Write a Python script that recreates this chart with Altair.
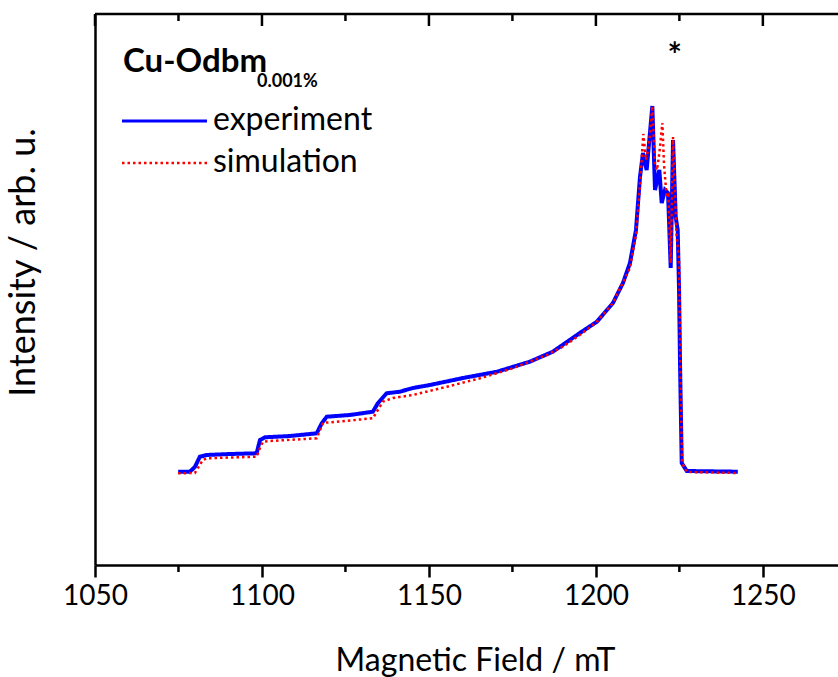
import altair as alt
import pandas as pd

# ---- data ----
series = ["experiment", "simulation"]
series_colors = ["#0000ff", "#ff0000"]

exp_field = [1074.9, 1078.4, 1079.9, 1081.4, 1083.4, 1090.4, 1098.4, 1099.4, 1100.9, 1108.4,
             1116.4, 1117.9, 1119.4, 1126.3, 1133.2, 1134.7, 1137.3, 1141.3, 1145.2, 1150.3,
             1160.2, 1170.4, 1180.2, 1187.1, 1195.2, 1200.3, 1205.1, 1208.1, 1210.2, 1212.0,
             1213.2, 1214.1, 1215.2, 1216.9, 1217.7, 1219.0, 1219.7, 1220.7, 1221.6, 1222.4,
             1223.1, 1223.9, 1224.5, 1224.9, 1225.2, 1225.7, 1227.2, 1242.5]
exp_int = [93.3, 93.3, 98, 108.3, 110, 111, 111.7, 125, 127.7, 129,
           131.7, 141.7, 148.3, 150, 153.3, 161.7, 171.7, 173.3, 177, 180,
           187, 193.3, 203.3, 213.3, 232, 243.3, 262, 282, 302, 335,
           388, 412, 395, 459, 375, 395, 362, 375, 372, 297,
           425, 348, 335, 275, 200, 102, 94, 93.3]

sim_field = [1074.9, 1079.9, 1080.8, 1082.3, 1083.4, 1098.4, 1099.4, 1100.3, 1102.4, 1116.4,
             1117.4, 1118.3, 1120.4, 1133.2, 1134.7, 1136.2, 1139.2, 1145.2, 1155.4, 1165.3,
             1175.1, 1185.3, 1190.1, 1195.2, 1200.3, 1205.1, 1210.2, 1212.0, 1213.2, 1214.2,
             1215.0, 1215.9, 1216.9, 1217.7, 1218.3, 1219.0, 1219.9, 1220.4, 1221.2, 1221.7,
             1222.4, 1223.1, 1224.1, 1224.9, 1225.3, 1225.8, 1227.2, 1242.5]
sim_int = [91.7, 92, 97, 105, 106.7, 108.3, 117, 123.3, 124, 126.7,
           135, 142.3, 142.7, 146.7, 155, 163.3, 167, 170, 178.3, 186.7,
           196.7, 210, 218.3, 230, 243.3, 262, 297, 330, 380, 431,
           405, 420, 459, 400, 395, 412, 442, 400, 368, 370,
           302, 428, 332, 305, 200, 102, 93, 92]

major_ticks = [1050, 1100, 1150, 1200, 1250]
minor_ticks = [1075, 1125, 1175, 1225]
star_field = [1223.6]
x_domain = [1050, 1272.5]
y_domain = [0, 551]
legend_title = "Cu-Odbm"
legend_sub = "0.001%"

# ---- layout ----
W, H = 743, 551
FONT = "Lato"
FS = 32

df = pd.concat([
    pd.DataFrame({"field": exp_field, "intensity": exp_int, "series": series[0],
                  "order": list(range(len(exp_field)))}),
    pd.DataFrame({"field": sim_field, "intensity": sim_int, "series": series[1],
                  "order": list(range(len(sim_field)))}),
], ignore_index=True)

x_scale = alt.Scale(domain=x_domain, nice=False, zero=False)
y_scale = alt.Scale(domain=y_domain, nice=False, zero=False)

x_axis = alt.Axis(values=major_ticks, format="d", title="Magnetic Field / mT", grid=False,
                  domainColor="black", domainWidth=2.5, tickColor="black", tickWidth=2.5,
                  tickSize=12, labelFont=FONT, labelFontSize=28, labelColor="black",
                  labelPadding=5, labelFlush=False, labelOverlap=False,
                  titleFont=FONT, titleFontSize=FS, titleFontWeight="normal", titleColor="black",
                  titleX=380, titleY=105, titleBaseline="alphabetic", titleAlign="center")
y_axis = alt.Axis(title="Intensity / arb. u.", ticks=False, labels=False, grid=False,
                  domainColor="black", domainWidth=2.5,
                  titleFont=FONT, titleFontSize=36, titleFontWeight="normal", titleColor="black",
                  titleX=-61, titleY=248, titleBaseline="alphabetic", titleAlign="center",
                  titleAngle=270)

lines = alt.Chart(df).mark_line().encode(
    x=alt.X("field:Q", scale=x_scale, axis=x_axis),
    y=alt.Y("intensity:Q", scale=y_scale, axis=y_axis),
    color=alt.Color("series:N", scale=alt.Scale(domain=series, range=series_colors),
                    legend=None),
    strokeDash=alt.StrokeDash("series:N", scale=alt.Scale(domain=series, range=[[1, 0], [2.5, 3]]),
                              legend=None),
    strokeWidth=alt.StrokeWidth("series:N", scale=alt.Scale(domain=series, range=[4, 2.5]),
                                legend=None),
    order="order:Q",
)

tick_major_df = pd.DataFrame({"field": major_ticks})
tick_minor_df = pd.DataFrame({"field": minor_ticks})
one = pd.DataFrame({"a": [0]})

top_major = alt.Chart(tick_major_df).mark_rule(color="black", strokeWidth=2.5).encode(
    x=alt.X("field:Q", scale=x_scale), y=alt.value(0), y2=alt.value(12))
top_minor = alt.Chart(tick_minor_df).mark_rule(color="black", strokeWidth=2.5).encode(
    x=alt.X("field:Q", scale=x_scale), y=alt.value(0), y2=alt.value(7))
bottom_minor = alt.Chart(tick_minor_df).mark_rule(color="black", strokeWidth=2.5).encode(
    x=alt.X("field:Q", scale=x_scale), y=alt.value(H), y2=alt.value(H + 7))
top_line = alt.Chart(one).mark_rule(color="black", strokeWidth=2.5).encode(
    x=alt.value(0), x2=alt.value(W), y=alt.value(0))

star = alt.Chart(pd.DataFrame({"field": star_field, "label": ["*"]})).mark_text(
    font=FONT, fontSize=34, fontWeight="bold", color="black", baseline="alphabetic", align="center"
).encode(x=alt.X("field:Q", scale=x_scale), y=alt.value(53), text="label:N")

# ---- legend (drawn by hand so the row spacing matches) ----
title_txt = alt.Chart(pd.DataFrame({"label": [legend_title]})).mark_text(
    font=FONT, fontSize=33, fontWeight="bold", color="black", baseline="alphabetic", align="left"
).encode(x=alt.value(28), y=alt.value(58), text="label:N")
subscript = alt.Chart(pd.DataFrame({"label": [legend_sub]})).mark_text(
    font=FONT, fontSize=18, fontWeight="bold", color="black", baseline="alphabetic", align="left"
).encode(x=alt.value(162), y=alt.value(73), text="label:N")

leg_exp_line = alt.Chart(one).mark_rule(color=series_colors[0], strokeWidth=3).encode(
    x=alt.value(27), x2=alt.value(112), y=alt.value(107))
leg_sim_line = alt.Chart(one).mark_rule(color=series_colors[1], strokeWidth=2.5,
                                        strokeDash=[2.5, 3]).encode(
    x=alt.value(27), x2=alt.value(112), y=alt.value(149))
leg_exp_txt = alt.Chart(pd.DataFrame({"label": [series[0]]})).mark_text(
    font=FONT, fontSize=FS, color="black", baseline="alphabetic", align="left"
).encode(x=alt.value(118), y=alt.value(116), text="label:N")
leg_sim_txt = alt.Chart(pd.DataFrame({"label": [series[1]]})).mark_text(
    font=FONT, fontSize=FS, color="black", baseline="alphabetic", align="left"
).encode(x=alt.value(118), y=alt.value(158), text="label:N")

chart = alt.layer(lines, top_line, top_major, top_minor, bottom_minor, star,
                  title_txt, subscript, leg_exp_line, leg_sim_line,
                  leg_exp_txt, leg_sim_txt).properties(
    width=W, height=H,
    autosize=alt.AutoSizeParams(type="none"),
    padding={"left": 95, "top": 14, "right": 0, "bottom": 112},
).configure_view(stroke=None).configure(background="white")

chart.save("out.html", embed_options={"renderer": "svg", "actions": False})
